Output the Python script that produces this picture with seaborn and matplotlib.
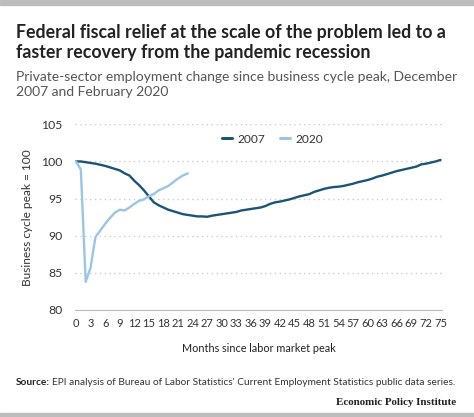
import matplotlib
matplotlib.use("Agg")
import matplotlib.pyplot as plt
import seaborn as sns
import pandas as pd
from matplotlib.ticker import MultipleLocator

# months since peak
months_2007 = list(range(0, 76))
values_2007 = [100.0, 100.0, 99.9, 99.8, 99.7, 99.55, 99.4, 99.2, 99.0, 98.8,
               98.4, 98.1, 97.4, 96.8, 96.1, 95.3, 94.5, 94.1, 93.8, 93.5,
               93.3, 93.1, 92.9, 92.8, 92.7, 92.6, 92.6, 92.55, 92.7, 92.8,
               92.9, 93.0, 93.1, 93.2, 93.4, 93.5, 93.6, 93.7, 93.8, 94.0,
               94.3, 94.5, 94.6, 94.75, 94.9, 95.1, 95.3, 95.45, 95.6, 95.9,
               96.1, 96.3, 96.45, 96.55, 96.6, 96.7, 96.85, 97.0, 97.2, 97.35,
               97.5, 97.7, 97.95, 98.1, 98.3, 98.5, 98.7, 98.85, 99.0, 99.15,
               99.3, 99.6, 99.7, 99.85, 100.0, 100.2]
months_2020 = list(range(0, 24))
values_2020 = [100.0, 98.9, 83.8, 85.7, 89.8, 90.7, 91.6, 92.4, 93.1, 93.5,
               93.4, 93.8, 94.3, 94.7, 94.9, 95.3, 95.6, 96.1, 96.4, 96.7,
               97.2, 97.7, 98.1, 98.4]

df = pd.DataFrame({
    "month": months_2007 + months_2020,
    "value": values_2007 + values_2020,
    "year": ["2007"] * len(months_2007) + ["2020"] * len(months_2020),
})

colors = {"2007": "#1a5577", "2020": "#9cc4e6"}

sns.set_style("white")
plt.rcParams["font.family"] = ["Lato", "DejaVu Sans"]

fig = plt.figure(figsize=(4.74, 4.17), dpi=100)
ax = fig.add_axes([75 / 474, (417 - 310) / 417, (442 - 75) / 474, (310 - 124.3) / 417])

sns.lineplot(data=df, x="month", y="value", hue="year", palette=colors,
             linewidth=1.7, ax=ax)

ax.set_xlim(-0.2, 75.3)
ax.set_ylim(80, 105)
ax.set_yticks([80, 85, 90, 95, 100, 105])
ax.xaxis.set_major_locator(MultipleLocator(3))
ax.xaxis.set_minor_locator(MultipleLocator(1))
for y in [85, 90, 95, 100, 105]:
    ax.axhline(y, color="#cccccc", linestyle=(0, (1, 2.5)), linewidth=1, zorder=0)
for s in ["top", "right", "left"]:
    ax.spines[s].set_visible(False)
ax.spines["bottom"].set_color("#bbbbbb")
ax.spines["bottom"].set_linewidth(0.8)
ax.tick_params(axis="x", which="major", length=3.5, color="#bbbbbb", width=0.8,
               labelsize=8.0, labelcolor="#333333", pad=2.5)
ax.tick_params(axis="x", which="minor", length=2.2, color="#bbbbbb", width=0.6)
ax.tick_params(axis="y", length=0, labelsize=8.8, labelcolor="#333333", pad=9)
ax.set_xlabel("Months since labor market peak", fontsize=7.8, color="#222222", labelpad=10)
ax.set_ylabel("Business cycle peak = 100", fontsize=8.6, color="#333333", labelpad=6)

leg = ax.legend(loc="center", bbox_to_anchor=(0.538, 0.92), ncol=2, frameon=False,
                fontsize=8.6, handlelength=0.85, columnspacing=1.3, handletextpad=0.4)
for t in leg.get_texts():
    t.set_color("#333333")
for h in leg.get_lines():
    h.set_linewidth(2.2)

# frame bars
fig.patches.append(plt.Rectangle((0, 1 - 5 / 417), 1, 5 / 417, transform=fig.transFigure,
                                 color="#bdbdbd", zorder=0))
fig.patches.append(plt.Rectangle((0, 0), 1, 4 / 417, transform=fig.transFigure,
                                 color="#bdbdbd", zorder=0))

fig.text(16 / 474, 1 - 58 / 417, "Federal fiscal relief at the scale of the problem led to a\n"
         "faster recovery from the pandemic recession", fontsize=12.8, fontweight="bold",
         color="#222222", va="baseline", linespacing=1.2)
fig.text(16 / 474, 1 - 96 / 417, "Private-sector employment change since business cycle peak, December\n"
         "2007 and February 2020", fontsize=10, color="#555555", va="baseline", linespacing=1.3)

src = fig.text(16 / 474, 1 - 385 / 417, "Source:", fontsize=7.25, fontweight="bold",
               color="#222222", va="baseline")
fig.canvas.draw()
bb = src.get_window_extent(fig.canvas.get_renderer())
fig.text((bb.x1 + 2) / 474, 1 - 385 / 417,
         "EPI analysis of Bureau of Labor Statistics' Current Employment Statistics public data series.",
         fontsize=7.25, color="#333333", va="baseline")
fig.text(456 / 474, 1 - 405 / 417, "Economic Policy Institute", fontsize=7.9, fontweight="bold",
         family="Liberation Serif", color="#222222", ha="right", va="baseline")

fig.savefig("out.png", dpi=100)
